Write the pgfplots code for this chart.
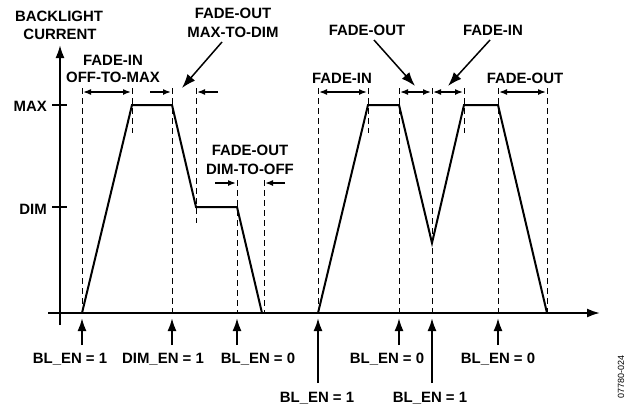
\documentclass[border=0pt]{standalone}
\usepackage{fontspec}
\setmainfont{Liberation Sans}
\usepackage{pgfplots}
\pgfplotsset{compat=1.18}
\usetikzlibrary{arrows.meta}
\begin{document}
\begin{tikzpicture}[x=1bp,y=1bp,
  lab/.style={font=\fontsize{15}{17}\selectfont\bfseries, inner sep=0pt, anchor=base},
  dsh/.style={black, line width=1bp, dash pattern=on 6bp off 4bp},
  dim/.style={black, line width=1.5bp, >={Latex[length=8bp,width=6bp]}},
  big/.style={black, line width=1.5bp, -{Latex[length=14bp,width=10bp]}},
  up/.style={black, line width=2bp, -{Latex[length=13bp,width=9bp]}}]
\useasboundingbox (0,0) rectangle (630,405);
\begin{axis}[at={(0,0)}, anchor=south west, scale only axis,
  width=630bp, height=405bp, xmin=0, xmax=630, ymin=0, ymax=405,
  y dir=reverse, hide axis, clip=false]
% waveform
\addplot[black, line width=2bp, line join=miter, mark=none] coordinates {(82,313)(132,105)(172,105)(196,207)(237,207)(262,313)};
\addplot[black, line width=2bp, line join=miter, mark=none] coordinates {(318,313)(368,105)(399,105)(432,243)(464,105)(498,105)(547,313)};
% dashed verticals
\addplot[dsh] coordinates {(82,88)(82,313)};
\addplot[dsh] coordinates {(132,88)(132,133)};
\addplot[dsh] coordinates {(172,88)(172,313)};
\addplot[dsh] coordinates {(196,88)(196,223)};
\addplot[dsh] coordinates {(237,180)(237,313)};
\addplot[dsh] coordinates {(264,180)(264,313)};
\addplot[dsh] coordinates {(318,88)(318,313)};
\addplot[dsh] coordinates {(368,88)(368,133)};
\addplot[dsh] coordinates {(399,88)(399,313)};
\addplot[dsh] coordinates {(432,88)(432,313)};
\addplot[dsh] coordinates {(464,88)(464,133)};
\addplot[dsh] coordinates {(498,88)(498,313)};
\addplot[dsh] coordinates {(547,88)(547,313)};
% axes
\draw[up] (axis cs:60,325) -- (axis cs:60,45);
\draw[up] (axis cs:48,313) -- (axis cs:600,313);
\draw[black, line width=1.2bp] (axis cs:52,105) -- (axis cs:67,105);
\draw[black, line width=1.2bp] (axis cs:52,207) -- (axis cs:67,207);
% dimension arrows
\draw[dim,<->] (axis cs:83,92) -- (axis cs:131,92);
\draw[dim,->] (axis cs:150,92) -- (axis cs:171,92);
\draw[dim,->] (axis cs:218,92) -- (axis cs:197,92);
\draw[dim,->] (axis cs:215,183) -- (axis cs:236,183);
\draw[dim,->] (axis cs:285,183) -- (axis cs:265,183);
\draw[dim,<->] (axis cs:319,92) -- (axis cs:367,92);
\draw[dim,<->] (axis cs:400,92) -- (axis cs:431,92);
\draw[dim,<->] (axis cs:433,92) -- (axis cs:463,92);
\draw[dim,<->] (axis cs:499,92) -- (axis cs:546,92);
% diagonal arrows
\draw[big] (axis cs:222,42) -- (axis cs:182,88);
\draw[big] (axis cs:374,40) -- (axis cs:415,86);
\draw[big] (axis cs:490,40) -- (axis cs:448,86);
% bottom arrows
\draw[up] (axis cs:82,345) -- (axis cs:82,318);
\draw[up] (axis cs:172,345) -- (axis cs:172,318);
\draw[up] (axis cs:237,345) -- (axis cs:237,318);
\draw[up] (axis cs:399,345) -- (axis cs:399,318);
\draw[up] (axis cs:498,345) -- (axis cs:498,318);
\draw[up] (axis cs:318,383) -- (axis cs:318,318);
\draw[up] (axis cs:432,383) -- (axis cs:432,318);
% labels
\node[lab] at (axis cs:59,22) {BACKLIGHT};
\node[lab] at (axis cs:60,39) {CURRENT};
\node[lab] at (axis cs:113,65) {FADE-IN};
\node[lab] at (axis cs:113,82) {OFF-TO-MAX};
\node[lab] at (axis cs:233,19) {FADE-OUT};
\node[lab] at (axis cs:233,37) {MAX-TO-DIM};
\node[lab] at (axis cs:250,155) {FADE-OUT};
\node[lab] at (axis cs:250,174) {DIM-TO-OFF};
\node[lab] at (axis cs:342,83) {FADE-IN};
\node[lab] at (axis cs:367,35) {FADE-OUT};
\node[lab] at (axis cs:493,35) {FADE-IN};
\node[lab] at (axis cs:525,83) {FADE-OUT};
\node[lab, anchor=base east] at (axis cs:47,111) {MAX};
\node[lab, anchor=base east] at (axis cs:47,214) {DIM};
\node[lab] at (axis cs:70,363) {BL\_EN = 1};
\node[lab] at (axis cs:163,363) {DIM\_EN = 1};
\node[lab] at (axis cs:258,363) {BL\_EN = 0};
\node[lab] at (axis cs:387,363) {BL\_EN = 0};
\node[lab] at (axis cs:498,363) {BL\_EN = 0};
\node[lab] at (axis cs:317,402) {BL\_EN = 1};
\node[lab] at (axis cs:430,402) {BL\_EN = 1};
\node[font=\fontsize{9}{10}\selectfont, inner sep=0pt, rotate=90] at (axis cs:621,377) {07780-024};
\end{axis}
\end{tikzpicture}
\end{document}
